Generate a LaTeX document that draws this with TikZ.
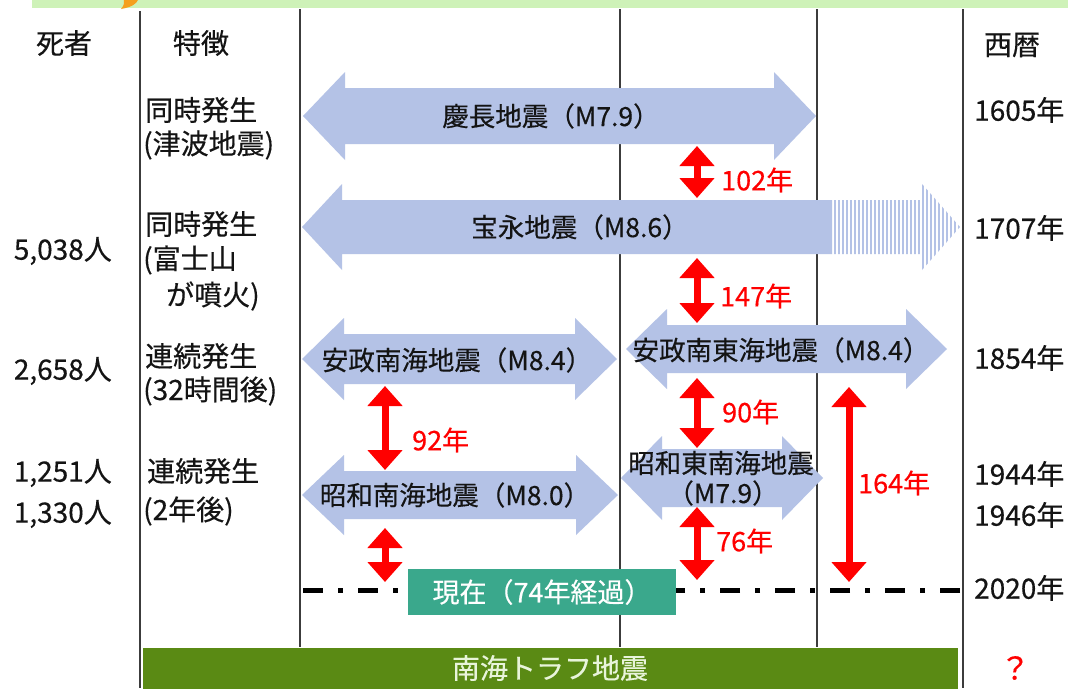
\documentclass[tikz,border=0pt]{standalone}
\usepackage{fontspec}
\setmainfont{Noto Sans CJK JP}[FakeBold=0.4]
\usetikzlibrary{arrows.meta}
\definecolor{arrowblue}{RGB}{180,194,230}
\definecolor{txt}{RGB}{20,20,20}
\definecolor{redc}{RGB}{255,0,0}
\definecolor{tealbox}{RGB}{58,168,140}
\definecolor{bargreen}{RGB}{90,138,20}
\definecolor{bartext}{RGB}{232,244,218}
\definecolor{topgreen}{RGB}{206,242,184}
\definecolor{linegray}{RGB}{60,60,60}
\definecolor{logoorange}{RGB}{245,160,30}
% #1 left tip x, #2 right tip x, #3 centre y, #4 shaft half, #5 head half, #6 head length
\newcommand{\DArrow}[6]{%
  \fill[arrowblue] (#1,#3) -- (#1+#6,#3-#5) -- (#1+#6,#3-#4) -- (#2-#6,#3-#4) -- (#2-#6,#3-#5)
    -- (#2,#3) -- (#2-#6,#3+#5) -- (#2-#6,#3+#4) -- (#1+#6,#3+#4) -- (#1+#6,#3+#5) -- cycle;}
\begin{document}
\begin{tikzpicture}[x=1pt,y=-1pt,
  every node/.style={inner sep=0pt, text=txt},
  lbl/.style={font=\fontsize{26.5}{29}\selectfont},
  side/.style={font=\fontsize{28}{31}\selectfont},
  redlbl/.style={font=\fontsize{27}{29}\selectfont, text=redc, anchor=west},
  vline/.style={draw=linegray, line width=1.3pt},
  redarrow/.style={draw=redc, line width=7pt, {Triangle[width=34pt,length=20pt]}-{Triangle[width=34pt,length=20pt]}},
  dashdot/.style={draw=black, line width=5pt, dash pattern=on 20pt off 15pt on 5pt off 15pt},
]
\useasboundingbox (0,0) rectangle (1068,688);
\fill[white] (0,0) rectangle (1068,688);
% top band
\fill[topgreen] (32,0) rectangle (1068,8);
\fill[logoorange] (124,0) -- (138,0) .. controls (136,4) and (132,7) .. (121,9) .. controls (124,5) .. (124,0);
% vertical grid lines
\draw[vline] (140,11) -- (140,688);
\draw[vline] (300,9) -- (300,647);
\draw[vline] (620,9) -- (620,647);
\draw[vline] (817,9) -- (817,647);
\draw[vline] (963,9) -- (963,688);
% headers
\node[side] (h1) at (64,43) {死者};
\node[side] (h2) at (201,43) {特徴};
\node[side] (h3) at (1012,45) {西暦};
% blue double arrows
\DArrow{303}{816}{116}{28}{44}{42}
\node[lbl] (keicho) at (551,116) {慶長地震（M7.9）};
% hoei (partly hatched)
\fill[arrowblue] (302,227) -- (342,184) -- (342,200) -- (832,200) -- (832,254) -- (342,254) -- (342,270) -- cycle;
\begin{scope}
  \clip (832,200) -- (922,200) -- (922,184) -- (960,227) -- (922,270) -- (922,254) -- (832,254) -- cycle;
  \foreach \xx in {835,839,...,959} \draw[arrowblue, line width=2pt] (\xx,180) -- (\xx,275);
\end{scope}
\node[lbl] (hoei) at (580,227) {宝永地震（M8.6）};
\DArrow{302}{617}{359}{25}{41}{42}
\node[lbl] (ansei1) at (457,360) {安政南海地震（M8.4）};
\DArrow{626}{947}{349}{24}{40}{41}
\node[lbl] (ansei2) at (781,350) {安政南東海地震（M8.4）};
\DArrow{302}{618}{495}{24}{40}{42}
\node[lbl] (showa1) at (455,495) {昭和南海地震（M8.0）};
\DArrow{621}{823}{478}{29}{42}{41}
\node[lbl] (showa2a) at (721,463) {昭和東南海地震};
\node[lbl] (showa2b) at (723,493) {（M7.9）};
% red interval arrows
\coordinate (a1) at (697,146); \coordinate (b1) at (697,198);
\coordinate (a2) at (697,258); \coordinate (b2) at (697,323);
\coordinate (a3) at (697,378); \coordinate (b3) at (697,448);
\coordinate (a4) at (697,507); \coordinate (b4) at (697,580);
\coordinate (a5) at (385,386); \coordinate (b5) at (385,470);
\coordinate (a6) at (385,528); \coordinate (b6) at (385,582);
\coordinate (a7) at (849,387); \coordinate (b7) at (849,582);
\draw[redarrow] (a1) -- (b1);
\draw[redarrow] (a2) -- (b2);
\draw[redarrow] (a3) -- (b3);
\draw[redarrow] (a4) -- (b4);
\draw[redarrow] (a5) -- (b5);
\draw[redarrow] (a6) -- (b6);
\draw[redarrow] (a7) -- (b7);
\node[redlbl] (l1) at (721,180) {102年};
\node[redlbl] (l2) at (720,296) {147年};
\node[redlbl] (l3) at (722,412) {90年};
\node[redlbl] (l4) at (716,541) {76年};
\node[redlbl] (l5) at (412,440) {92年};
\node[redlbl] (l7) at (858,483) {164年};
% present line
\node[fill=tealbox, minimum width=268pt, minimum height=46pt, text=white, font=\fontsize{27}{29}\selectfont] (now) at (542,592) {現在（74年経過）};
\coordinate (d1) at (303,590); \coordinate (d2) at (960,590);
\draw[dashdot] (d1) -- (now.west |- d1);
\draw[dashdot] (d2) -- (now.east |- d2);
% bottom bar
\node[fill=bargreen, minimum width=815pt, minimum height=41pt, text=bartext, font=\fontsize{28}{30}\selectfont] (nankai) at (550,668) {南海トラフ地震};
\node[font=\fontsize{31}{32}\selectfont, text=redc] (q) at (1015,668) {？};
% feature column
\node[side, anchor=west] (f1a) at (145,110) {同時発生};
\node[side, anchor=west] (f1b) at (143,145) {(津波地震)};
\node[side, anchor=west] (f2a) at (145,224) {同時発生};
\node[side, anchor=west] (f2b) at (143,260) {(富士山};
\node[side, anchor=west] (f2c) at (166,296) {が噴火)};
\node[side, anchor=west] (f3a) at (145,356) {連続発生};
\node[side, anchor=west] (f3b) at (143,391) {(32時間後)};
\node[side, anchor=west] (f4a) at (147,471) {連続発生};
\node[side, anchor=west] (f4b) at (143,511) {(2年後)};
% deaths column
\node[side, anchor=east] (d5038) at (112,251) {5,038人};
\node[side, anchor=east] (d2658) at (112,371) {2,658人};
\node[side, anchor=east] (d1251) at (112,473) {1,251人};
\node[side, anchor=east] (d1330) at (112,514) {1,330人};
% years column
\node[side, anchor=west] (y1605) at (974,110) {1605年};
\node[side, anchor=west] (y1707) at (974,228) {1707年};
\node[side, anchor=west] (y1854) at (974,358) {1854年};
\node[side, anchor=west] (y1944) at (974,474) {1944年};
\node[side, anchor=west] (y1946) at (974,515) {1946年};
\node[side, anchor=west] (y2020) at (974,588) {2020年};
\end{tikzpicture}
\end{document}
